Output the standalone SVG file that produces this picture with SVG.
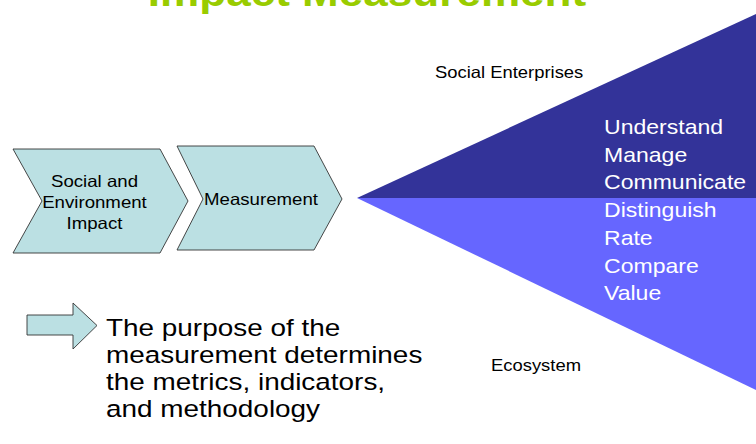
<svg xmlns="http://www.w3.org/2000/svg" width="756" height="444" viewBox="0 0 756 444">
  <style>
    text { font-family: "Liberation Sans", Arial, sans-serif; }
    .title { font-size: 39px; font-weight: bold; fill: #99CC00; text-anchor: middle; }
    .chev { fill: #BBE0E3; stroke: #333333; stroke-width: 0.9; stroke-linejoin: miter; }
    .chev-label { font-size: 16.5px; fill: #000000; text-anchor: middle; }
    .side-label { font-size: 16.3px; fill: #000000; }
    .fan-text { font-size: 20.4px; fill: #FFFFFF; }
    .note { font-size: 24.7px; fill: #000000; }
  </style>

  <!-- heading, partly above the top edge -->
  <text class="title" transform="translate(367,5.5) scale(1.13,1)">Impact Measurement</text>

  <g id="connectors"></g>

  <!-- first process step -->
  <g id="node-impact">
    <polygon class="chev" points="13,149 160,149 188,201 160,253 13,253 42,201"/>
    <text class="chev-label" transform="translate(94.5,187) scale(1.13,1)">Social and</text>
    <text class="chev-label" transform="translate(94.5,208) scale(1.13,1)">Environment</text>
    <text class="chev-label" transform="translate(94.5,229) scale(1.13,1)">Impact</text>
  </g>

  <!-- second process step -->
  <g id="node-measurement">
    <polygon class="chev" points="177,146 314,146 342,199 314,250 177,250 203,199"/>
    <text class="chev-label" transform="translate(261,205) scale(1.13,1)">Measurement</text>
  </g>

  <!-- fan: social enterprises (upper) and ecosystem (lower) -->
  <g id="node-social-enterprises">
    <polygon points="357,198 756,14 756,198" fill="#333399"/>
    <text class="side-label" transform="translate(435,78.3) scale(1.13,1)">Social Enterprises</text>
    <text class="fan-text" transform="translate(604,134) scale(1.13,1)">Understand</text>
    <text class="fan-text" transform="translate(604,161.7) scale(1.13,1)">Manage</text>
    <text class="fan-text" transform="translate(604,189.3) scale(1.13,1)">Communicate</text>
  </g>

  <g id="node-ecosystem">
    <polygon points="357,198 756,198 756,390" fill="#6666FF"/>
    <text class="side-label" transform="translate(491,370.7) scale(1.13,1)">Ecosystem</text>
    <text class="fan-text" transform="translate(604,217.3) scale(1.13,1)">Distinguish</text>
    <text class="fan-text" transform="translate(604,245) scale(1.13,1)">Rate</text>
    <text class="fan-text" transform="translate(604,272.7) scale(1.13,1)">Compare</text>
    <text class="fan-text" transform="translate(604,300) scale(1.13,1)">Value</text>
  </g>

  <!-- note with block arrow bullet -->
  <g id="node-purpose">
    <polygon class="chev" points="27,315 73,315 73,303 97,325.5 73,349 73,335 27,335"/>
    <text class="note" transform="translate(106,336.3) scale(1.13,1)">The purpose of the</text>
    <text class="note" transform="translate(106,363.3) scale(1.13,1)">measurement determines</text>
    <text class="note" transform="translate(106,390) scale(1.13,1)">the metrics, indicators,</text>
    <text class="note" transform="translate(106,416.7) scale(1.13,1)">and methodology</text>
  </g>
</svg>
